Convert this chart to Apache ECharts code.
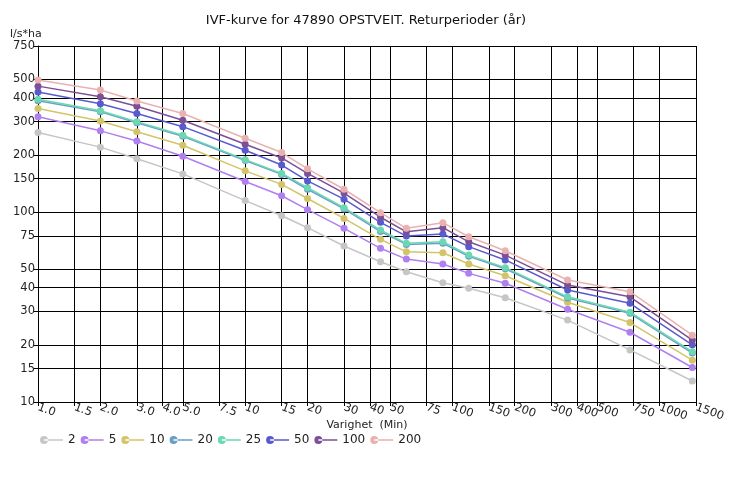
<!DOCTYPE html>
<html>
<head>
<meta charset="utf-8">
<script src="https://cdn.jsdelivr.net/npm/echarts@6/dist/echarts.min.js"></script>
<style>html,body{margin:0;padding:0;background:#fff;}#c{width:732px;height:483px;}</style>
</head>
<body>
<div id="c"></div>
<script>
const durations = [1, 2, 3, 5, 10, 15, 20, 30, 45, 60, 90, 120, 180, 360, 720, 1440];
const xTicks = [1, 1.5, 2, 3, 4, 5, 7.5, 10, 15, 20, 30, 40, 50, 75, 100, 150, 200, 300, 400, 500, 750, 1000, 1500];
const yTicks = [10, 15, 20, 30, 40, 50, 75, 100, 150, 200, 300, 400, 500, 750];
const seriesNames = ['2', '5', '10', '20', '25', '50', '100', '200'];
const colors = ['#c6c6c6', '#b07ff0', '#d3c46a', '#6b9fc6', '#6ad8b2', '#5a5ad0', '#7c5096', '#e9b2b0'];
const r2   = [263, 220, 191, 159, 115, 95.7, 82.8, 66.3, 54.8, 48.5, 42.5, 39.7, 35.4, 27.0, 18.8, 12.9];
const r5   = [318, 268, 237, 197, 145, 122, 103, 82.2, 64.5, 56.6, 53.3, 47.6, 42.2, 30.8, 23.3, 15.2];
const r10  = [351, 302, 265, 225, 165, 140, 118, 92.7, 71.9, 61.8, 61.1, 53.3, 46.2, 33.5, 26.2, 16.6];
const r20  = [386, 338, 296, 251, 187, 158, 132, 104, 79, 67.6, 68.5, 58.5, 50.3, 35.3, 29.3, 18.1];
const r25  = [393, 342, 299, 254, 189, 160, 134.5, 105.5, 80.5, 68.5, 69.8, 59.4, 51.0, 35.8, 29.7, 18.4];
const r50  = [429, 372, 331, 282, 212, 177, 146, 117, 88.4, 74.8, 76.7, 65.8, 56.0, 38.9, 33.1, 20.0];
const r100 = [461, 405, 361, 305, 228, 193, 160, 126, 94, 78.8, 82.8, 69.8, 59.4, 41.3, 35.8, 21.2];
const r200 = [497, 440, 385, 331, 245, 206, 169, 132, 99.3, 82.2, 88, 74.2, 62.6, 43.9, 38.1, 22.5];
const allValues = [r2, r5, r10, r20, r25, r50, r100, r200];

const font = 'DejaVu Sans';
const legendIcon = 'path://M0,4a4,4 0 1,0 8,0a4,4 0 1,0 -8,0z M4,3.3h19v1.4h-19z';

const chart = echarts.init(document.getElementById('c'), null, {renderer: 'canvas'});
const series = seriesNames.map((name, i) => ({
  name: name,
  type: 'line',
  data: durations.map((d, j) => [d, allValues[i][j]]),
  symbol: 'circle',
  symbolSize: 7,
  lineStyle: {width: 1.5, color: colors[i]},
  itemStyle: {color: colors[i]},
  z: 3 + i
}));

chart.setOption({
  animation: false,
  backgroundColor: '#fff',
  title: {
    text: 'IVF-kurve for 47890 OPSTVEIT. Returperioder (år)',
    left: 'center', top: 9,
    textStyle: {fontFamily: font, fontSize: 13, fontWeight: 'normal', color: '#111'}
  },
  legend: {
    left: 35, top: 429,
    icon: legendIcon,
    itemWidth: 23, itemHeight: 8, itemGap: 5,
    textStyle: {fontFamily: font, fontSize: 12, color: '#222'},
    data: seriesNames
  },
  grid: {left: 38, right: 36, top: 46, bottom: 81, containLabel: false},
  xAxis: {
    type: 'log', logBase: 10, min: 1, max: 1500,
    name: 'Varighet  (Min)', nameLocation: 'middle', nameGap: 18, nameMoveOverlap: false,
    nameTextStyle: {fontFamily: font, fontSize: 11, color: '#222'},
    axisLine: {show: true, lineStyle: {color: '#000', width: 1}},
    axisTick: {show: true, length: 4, lineStyle: {color: '#000'}, customValues: xTicks},
    axisLabel: {
      customValues: xTicks, rotate: -20, margin: 5,
      fontFamily: font, fontSize: 11.5, color: '#222',
      formatter: v => (v < 10 ? Number(v).toFixed(1) : String(v))
    },
    splitLine: {show: true, lineStyle: {color: '#000', width: 1}},
    minorTick: {show: false}, minorSplitLine: {show: false}
  },
  yAxis: {
    type: 'log', logBase: 10, min: 10, max: 750,
    name: 'l/s*ha', nameLocation: 'end', nameGap: 6,
    nameTextStyle: {fontFamily: font, fontSize: 11, color: '#222', align: 'left', padding: [0, 0, 0, -28]},
    axisLine: {show: true, lineStyle: {color: '#000', width: 1}},
    axisTick: {show: true, length: 4, lineStyle: {color: '#000'}, customValues: yTicks},
    axisLabel: {customValues: yTicks, margin: 3, fontFamily: font, fontSize: 11.5, color: '#222'},
    splitLine: {show: true, lineStyle: {color: '#000', width: 1}}
  },
  series: series
});
</script>
</body>
</html>
